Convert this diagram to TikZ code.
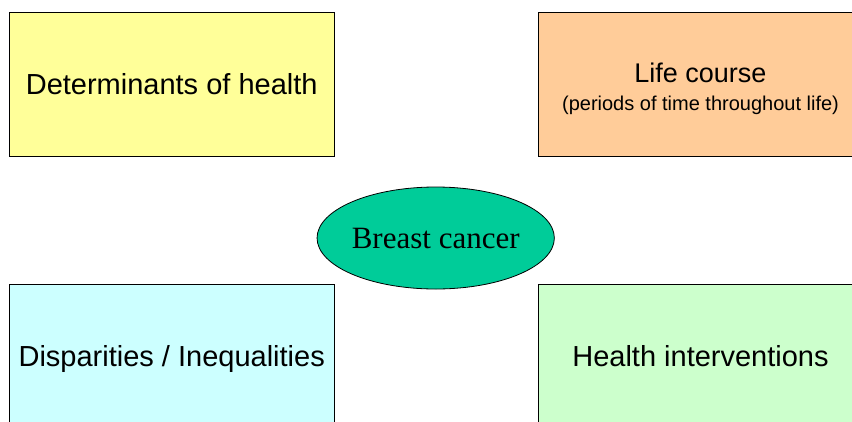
\documentclass[tikz,border=0pt]{standalone}
\usepackage{fontspec}
\setmainfont{Liberation Serif}
\setsansfont{Liberation Sans}
\usetikzlibrary{shapes.geometric}
\definecolor{detyellow}{HTML}{FFFF99}
\definecolor{lifeorange}{HTML}{FFCC99}
\definecolor{dispcyan}{HTML}{CCFFFF}
\definecolor{intgreen}{HTML}{CCFFCC}
\definecolor{cancergreen}{HTML}{00CC99}
\tikzset{every picture/.style={line width=0.8pt}}
\tikzset{
  topicbox/.style={draw=black, rectangle, minimum width=325pt, minimum height=144pt,
    inner sep=0pt, align=center, font=\sffamily\fontsize{29}{34}\selectfont},
  centreoval/.style={draw=black, ellipse, fill=cancergreen, minimum width=234pt,
    minimum height=102pt, inner sep=0pt, font=\rmfamily\fontsize{31}{36}\selectfont}
}

\begin{document}
\begin{tikzpicture}[x=1pt,y=-1pt]
              \useasboundingbox (0,0) rectangle (852,421);
              \clip (0,0) rectangle (852,421);
              \node[topicbox, fill=detyellow] (determinants) at (171.7,84.3) {Determinants of health};
              \node[topicbox, fill=lifeorange] (lifecourse) at (700.5,84.3)
                {\raisebox{-5.5pt}[\height][\depth]{\begin{tabular}{@{}c@{}}
                  {\fontsize{27}{27}\selectfont Life course}\\[-6pt]
                  {\fontsize{20}{22}\selectfont (periods of time throughout life)}
                \end{tabular}}};
              \node[topicbox, fill=dispcyan, text depth=0pt] (disparities) at (171.7,356) {Disparities / Inequalities};
              \node[topicbox, fill=intgreen] (interventions) at (700.5,356) {Health interventions};
              \node[centreoval] (cancer) at (435.7,238) {Breast cancer};
            \end{tikzpicture}
\end{document}
